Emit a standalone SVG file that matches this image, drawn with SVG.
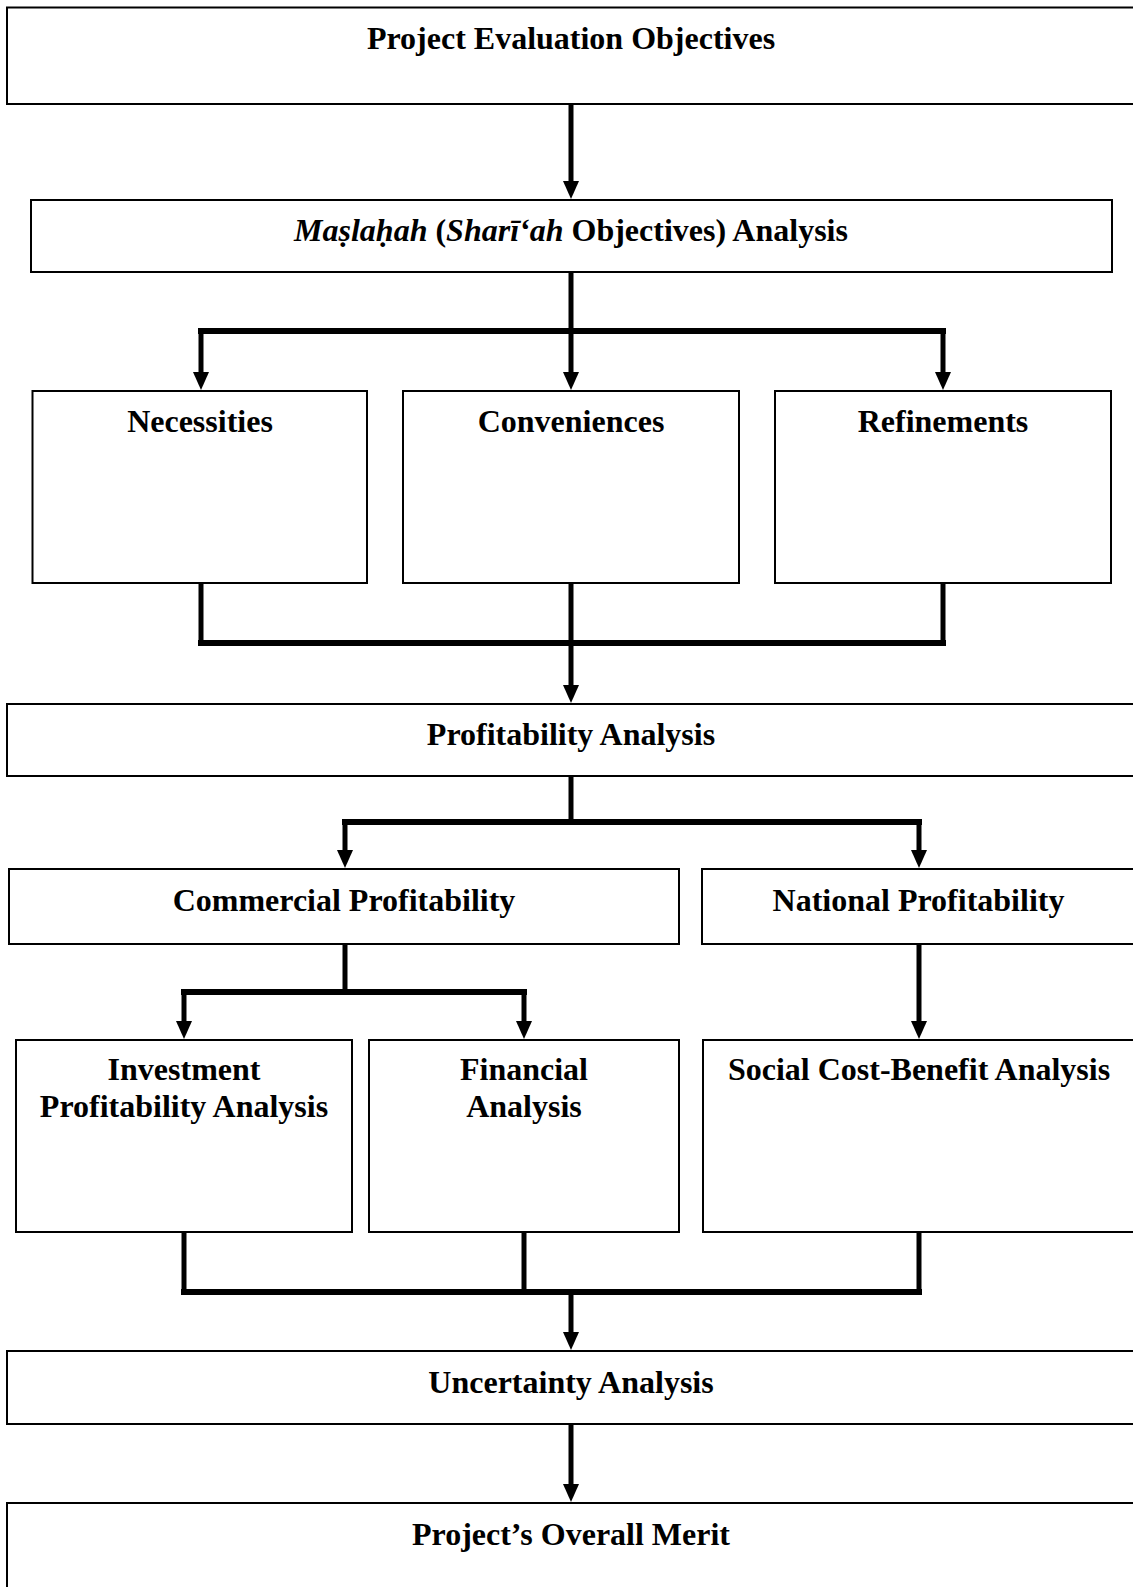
<svg xmlns="http://www.w3.org/2000/svg" width="1133" height="1587" viewBox="0 0 1133 1587">
  <style>
    .box { fill: #ffffff; stroke: #000000; stroke-width: 2; }
    .lbl { font-family: "Liberation Serif", "Times New Roman", serif; font-weight: bold; font-size: 32px; fill: #000000; text-anchor: middle; }
    .it { font-style: italic; }
    .wire { fill: none; stroke: #000000; stroke-width: 5; stroke-linejoin: miter; stroke-linecap: square; }
    .bar { fill: none; stroke: #000000; stroke-width: 6; stroke-linecap: square; }
    .arrow { fill: none; stroke: #000000; stroke-width: 5; marker-end: url(#head); }
  </style>
  <defs>
    <marker id="head" markerUnits="userSpaceOnUse" markerWidth="18" markerHeight="18" refX="1" refY="8" orient="auto" viewBox="0 0 18 16">
      <path d="M0,0 L18,8 L0,16 Z" fill="#000000"/>
    </marker>
  </defs>
  <rect width="1133" height="1587" fill="#ffffff"/>

  <!-- connectors -->
  <g id="connectors">
    <!-- objectives to maslahah -->
    <line class="arrow" x1="571" y1="104" x2="571" y2="182"/>
    <!-- maslahah fan-out -->
    <line class="wire" x1="571" y1="272" x2="571" y2="331"/>
    <line class="bar" x1="201" y1="331" x2="943" y2="331"/>
    <line class="arrow" x1="201" y1="331" x2="201" y2="373"/>
    <line class="arrow" x1="571" y1="331" x2="571" y2="373"/>
    <line class="arrow" x1="943" y1="331" x2="943" y2="373"/>
    <!-- three levels merge into profitability -->
    <line class="wire" x1="201" y1="583" x2="201" y2="643"/>
    <line class="wire" x1="571" y1="583" x2="571" y2="643"/>
    <line class="wire" x1="943" y1="583" x2="943" y2="643"/>
    <line class="bar" x1="201" y1="643" x2="943" y2="643"/>
    <line class="arrow" x1="571" y1="643" x2="571" y2="686"/>
    <!-- profitability split -->
    <line class="wire" x1="571" y1="776" x2="571" y2="822"/>
    <line class="bar" x1="345" y1="822" x2="919" y2="822"/>
    <line class="arrow" x1="345" y1="822" x2="345" y2="851"/>
    <line class="arrow" x1="919" y1="822" x2="919" y2="851"/>
    <!-- commercial split -->
    <line class="wire" x1="345" y1="944" x2="345" y2="992"/>
    <line class="bar" x1="184" y1="992" x2="524" y2="992"/>
    <line class="arrow" x1="184" y1="992" x2="184" y2="1022"/>
    <line class="arrow" x1="524" y1="992" x2="524" y2="1022"/>
    <!-- national to social cost-benefit -->
    <line class="arrow" x1="919" y1="944" x2="919" y2="1022"/>
    <!-- merge into uncertainty -->
    <line class="wire" x1="184" y1="1232" x2="184" y2="1292"/>
    <line class="wire" x1="524" y1="1232" x2="524" y2="1292"/>
    <line class="wire" x1="919" y1="1232" x2="919" y2="1292"/>
    <line class="bar" x1="184" y1="1292" x2="919" y2="1292"/>
    <line class="arrow" x1="571" y1="1292" x2="571" y2="1333"/>
    <!-- uncertainty to overall merit -->
    <line class="arrow" x1="571" y1="1424" x2="571" y2="1485"/>
  </g>

  <g id="objectives">
    <rect class="box" x="7" y="7.5" width="1140" height="96.5"/>
    <text class="lbl" x="571" y="49">Project Evaluation Objectives</text>
  </g>

  <g id="maslahah">
    <rect class="box" x="31" y="200" width="1081" height="72"/>
    <text class="lbl" x="571" y="241"><tspan class="it">Maṣlaḥah</tspan> (<tspan class="it">Sharī‘ah</tspan> Objectives) Analysis</text>
  </g>

  <g id="necessities">
    <rect class="box" x="32.5" y="391" width="334.5" height="192"/>
    <text class="lbl" x="200" y="432">Necessities</text>
  </g>

  <g id="conveniences">
    <rect class="box" x="403" y="391" width="336" height="192"/>
    <text class="lbl" x="571" y="432">Conveniences</text>
  </g>

  <g id="refinements">
    <rect class="box" x="775" y="391" width="336" height="192"/>
    <text class="lbl" x="943" y="432">Refinements</text>
  </g>

  <g id="profitability">
    <rect class="box" x="7" y="704" width="1140" height="72"/>
    <text class="lbl" x="571" y="745">Profitability Analysis</text>
  </g>

  <g id="commercial">
    <rect class="box" x="9" y="869" width="670" height="75"/>
    <text class="lbl" x="344" y="911">Commercial Profitability</text>
  </g>

  <g id="national">
    <rect class="box" x="702" y="869" width="445" height="75"/>
    <text class="lbl" x="918.5" y="911">National Profitability</text>
  </g>

  <g id="investment">
    <rect class="box" x="16" y="1040" width="336" height="192"/>
    <text class="lbl" x="184" y="1080">Investment</text>
    <text class="lbl" x="184" y="1117">Profitability Analysis</text>
  </g>

  <g id="financial">
    <rect class="box" x="369" y="1040" width="310" height="192"/>
    <text class="lbl" x="524" y="1080">Financial</text>
    <text class="lbl" x="524" y="1117">Analysis</text>
  </g>

  <g id="social">
    <rect class="box" x="703" y="1040" width="444" height="192"/>
    <text class="lbl" x="919" y="1080">Social Cost-Benefit Analysis</text>
  </g>

  <g id="uncertainty">
    <rect class="box" x="7" y="1351" width="1140" height="73"/>
    <text class="lbl" x="571" y="1393">Uncertainty Analysis</text>
  </g>

  <g id="merit">
    <rect class="box" x="7" y="1503" width="1140" height="100"/>
    <text class="lbl" x="571" y="1545">Project’s Overall Merit</text>
  </g>
</svg>
